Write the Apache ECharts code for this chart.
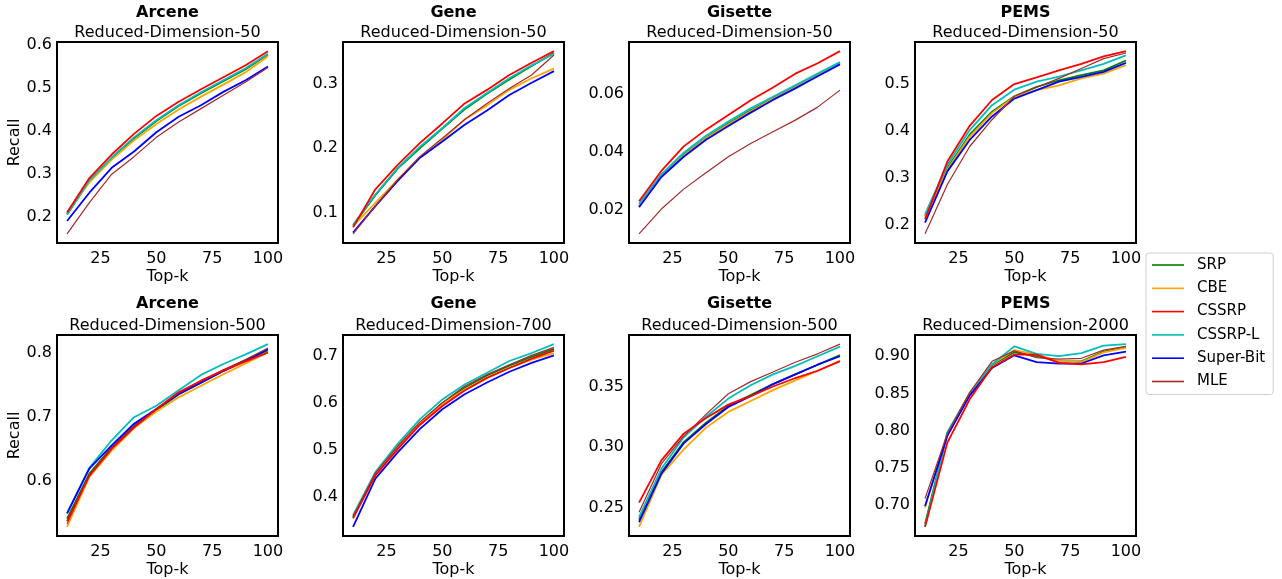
<!DOCTYPE html>
<html>
<head>
<meta charset="utf-8">
<script src="https://cdn.jsdelivr.net/npm/echarts@6/dist/echarts.min.js"></script>
<style>
  html, body { margin: 0; padding: 0; background: #fff; }
  #chart { width: 1282px; height: 579px; }
</style>
</head>
<body>
<div id="chart"></div>
<script>
// x values shared by every panel
const topK = [10, 20, 30, 40, 50, 60, 70, 80, 90, 100];
const methods = ['SRP', 'CBE', 'CSSRP', 'CSSRP-L', 'Super-Bit', 'MLE'];

// recall per method, rows in the order of `methods`
const arcene50 = [
  [0.205, 0.283, 0.336, 0.383, 0.423, 0.458, 0.488, 0.516, 0.544, 0.578],
  [0.210, 0.280, 0.333, 0.378, 0.416, 0.450, 0.480, 0.508, 0.537, 0.574],
  [0.210, 0.290, 0.345, 0.393, 0.435, 0.468, 0.497, 0.525, 0.553, 0.586],
  [0.205, 0.285, 0.338, 0.385, 0.425, 0.460, 0.490, 0.518, 0.546, 0.580],
  [0.190, 0.256, 0.314, 0.352, 0.397, 0.433, 0.460, 0.491, 0.518, 0.550],
  [0.160, 0.233, 0.299, 0.340, 0.385, 0.421, 0.452, 0.483, 0.514, 0.548]
];
const gene50 = [
  [0.080, 0.127, 0.168, 0.200, 0.230, 0.260, 0.284, 0.306, 0.327, 0.347],
  [0.079, 0.115, 0.151, 0.185, 0.213, 0.244, 0.266, 0.290, 0.308, 0.323],
  [0.077, 0.136, 0.174, 0.208, 0.238, 0.269, 0.290, 0.313, 0.332, 0.350],
  [0.081, 0.128, 0.169, 0.202, 0.231, 0.262, 0.285, 0.308, 0.328, 0.346],
  [0.069, 0.110, 0.149, 0.185, 0.210, 0.236, 0.258, 0.282, 0.301, 0.319],
  [0.067, 0.110, 0.151, 0.187, 0.215, 0.244, 0.269, 0.292, 0.313, 0.344]
];
const gisette50 = [
  [0.0212, 0.0318, 0.0390, 0.0449, 0.0498, 0.0544, 0.0586, 0.0626, 0.0667, 0.0709],
  [0.0213, 0.0316, 0.0388, 0.0447, 0.0495, 0.0541, 0.0584, 0.0624, 0.0665, 0.0707],
  [0.0229, 0.0334, 0.0419, 0.0477, 0.0528, 0.0579, 0.0623, 0.0671, 0.0707, 0.0749],
  [0.0220, 0.0322, 0.0397, 0.0456, 0.0505, 0.0551, 0.0591, 0.0631, 0.0671, 0.0711],
  [0.0208, 0.0313, 0.0383, 0.0442, 0.0490, 0.0536, 0.0580, 0.0620, 0.0662, 0.0703],
  [0.0116, 0.0202, 0.0271, 0.0328, 0.0383, 0.0429, 0.0470, 0.0510, 0.0555, 0.0614]
];
const pems50 = [
  [0.218, 0.320, 0.391, 0.440, 0.473, 0.493, 0.507, 0.518, 0.528, 0.549],
  [0.215, 0.317, 0.387, 0.437, 0.472, 0.486, 0.496, 0.511, 0.521, 0.539],
  [0.211, 0.334, 0.410, 0.465, 0.499, 0.513, 0.528, 0.542, 0.558, 0.569],
  [0.222, 0.327, 0.401, 0.454, 0.487, 0.504, 0.515, 0.528, 0.542, 0.560],
  [0.204, 0.313, 0.380, 0.430, 0.468, 0.486, 0.504, 0.514, 0.525, 0.544],
  [0.180, 0.285, 0.366, 0.423, 0.473, 0.492, 0.511, 0.532, 0.553, 0.565]
];
const arcene500 = [
  [0.542, 0.612, 0.653, 0.687, 0.711, 0.736, 0.754, 0.772, 0.789, 0.804],
  [0.529, 0.607, 0.648, 0.683, 0.709, 0.731, 0.749, 0.767, 0.784, 0.801],
  [0.538, 0.609, 0.651, 0.684, 0.713, 0.739, 0.757, 0.773, 0.787, 0.801],
  [0.550, 0.621, 0.664, 0.700, 0.718, 0.742, 0.766, 0.783, 0.798, 0.814],
  [0.550, 0.620, 0.656, 0.690, 0.713, 0.736, 0.754, 0.772, 0.788, 0.806],
  [0.534, 0.609, 0.652, 0.686, 0.712, 0.738, 0.756, 0.774, 0.790, 0.808]
];
const gene700 = [
  [0.357, 0.450, 0.507, 0.558, 0.600, 0.633, 0.659, 0.680, 0.699, 0.716],
  [0.356, 0.449, 0.507, 0.557, 0.598, 0.629, 0.654, 0.675, 0.693, 0.707],
  [0.354, 0.446, 0.502, 0.554, 0.594, 0.627, 0.654, 0.675, 0.695, 0.712],
  [0.361, 0.453, 0.513, 0.566, 0.608, 0.640, 0.665, 0.690, 0.707, 0.726],
  [0.336, 0.439, 0.495, 0.545, 0.587, 0.619, 0.644, 0.667, 0.686, 0.702],
  [0.358, 0.451, 0.508, 0.560, 0.601, 0.636, 0.661, 0.682, 0.702, 0.719]
];
const gisette500 = [
  [0.240, 0.279, 0.304, 0.320, 0.334, 0.343, 0.352, 0.360, 0.368, 0.376],
  [0.234, 0.277, 0.298, 0.316, 0.329, 0.338, 0.347, 0.355, 0.363, 0.371],
  [0.254, 0.289, 0.311, 0.324, 0.335, 0.342, 0.350, 0.357, 0.363, 0.371],
  [0.242, 0.282, 0.308, 0.325, 0.340, 0.351, 0.360, 0.367, 0.375, 0.383],
  [0.238, 0.278, 0.303, 0.319, 0.333, 0.342, 0.352, 0.360, 0.368, 0.375],
  [0.246, 0.286, 0.309, 0.327, 0.344, 0.354, 0.362, 0.370, 0.377, 0.385]
];
const pems2000 = [
  [0.675, 0.797, 0.850, 0.888, 0.905, 0.900, 0.893, 0.893, 0.906, 0.912],
  [0.697, 0.796, 0.851, 0.889, 0.908, 0.902, 0.893, 0.892, 0.905, 0.911],
  [0.671, 0.784, 0.842, 0.885, 0.902, 0.902, 0.891, 0.889, 0.892, 0.899],
  [0.671, 0.798, 0.849, 0.889, 0.913, 0.903, 0.900, 0.904, 0.914, 0.916],
  [0.699, 0.793, 0.847, 0.884, 0.901, 0.892, 0.890, 0.890, 0.901, 0.906],
  [0.709, 0.796, 0.851, 0.893, 0.907, 0.898, 0.896, 0.897, 0.908, 0.913]
];

const datasets = ['Arcene', 'Gene', 'Gisette', 'PEMS', 'Arcene', 'Gene', 'Gisette', 'PEMS'];
const dims = [50, 50, 50, 50, 500, 700, 500, 2000];
const panelData = [arcene50, gene50, gisette50, pems50, arcene500, gene700, gisette500, pems2000];

const xTicks = [25, 50, 75, 100];
const yTicks = [
  [0.2, 0.3, 0.4, 0.5, 0.6],
  [0.1, 0.2, 0.3],
  [0.02, 0.04, 0.06],
  [0.2, 0.3, 0.4, 0.5],
  [0.6, 0.7, 0.8],
  [0.4, 0.5, 0.6, 0.7],
  [0.25, 0.30, 0.35],
  [0.70, 0.75, 0.80, 0.85, 0.90]
];
const yDecimals = [1, 1, 2, 1, 1, 1, 2, 2];

const colors = {
  'SRP': '#008000',
  'CBE': '#FFA500',
  'CSSRP': '#FF0000',
  'CSSRP-L': '#00BFBF',
  'Super-Bit': '#0000FF',
  'MLE': '#A52A2A'
};
// draw order (last on top)
const drawOrder = ['SRP', 'CBE', 'CSSRP-L', 'Super-Bit', 'MLE', 'CSSRP'];

const font = 'DejaVu Sans';
const lefts = [57, 343, 629, 915];
const tops = [42, 335];
const gw = 221, gh = 201;

const grid = [], xAxis = [], yAxis = [], title = [], series = [];

panelData.forEach((rows, p) => {
  const col = p % 4, row = Math.floor(p / 4);
  grid.push({
    left: lefts[col], top: tops[row], width: gw, height: gh,
    show: true, borderColor: '#000', borderWidth: 2, backgroundColor: 'transparent'
  });

  let lo = Infinity, hi = -Infinity;
  rows.forEach(r => r.forEach(v => { lo = Math.min(lo, v); hi = Math.max(hi, v); }));
  const pad = (hi - lo) * 0.05;

  xAxis.push({
    gridIndex: p, type: 'value', min: 5.5, max: 104.5,
    name: 'Top-k', nameLocation: 'middle', nameGap: 26,
    nameTextStyle: { fontFamily: font, fontSize: 16, color: '#000' },
    axisLine: { show: false }, axisTick: { show: false }, splitLine: { show: false },
    axisLabel: { customValues: xTicks, margin: 8, fontFamily: font, fontSize: 16, color: '#000' }
  });
  yAxis.push({
    gridIndex: p, type: 'value', min: lo - pad, max: hi + pad,
    name: col === 0 ? 'Recall' : '', nameLocation: 'middle', nameGap: 30,
    nameTextStyle: { fontFamily: font, fontSize: 16, color: '#000' },
    axisLine: { show: false }, axisTick: { show: false }, splitLine: { show: false },
    axisLabel: {
      customValues: yTicks[p], margin: 5, fontFamily: font, fontSize: 16, color: '#000',
      formatter: v => v.toFixed(yDecimals[p])
    }
  });
  title.push({
    text: datasets[p], subtext: 'Reduced-Dimension-' + dims[p],
    left: lefts[col] + gw / 2, top: row === 0 ? 3 : 294, textAlign: 'center',
    padding: 0, itemGap: row === 0 ? 1 : 3,
    textStyle: { fontFamily: font, fontSize: 16, fontWeight: 'bold', color: '#000', lineHeight: 19 },
    subtextStyle: { fontFamily: font, fontSize: 16, color: '#000', lineHeight: 19 }
  });

  drawOrder.forEach(name => {
    const vals = rows[methods.indexOf(name)];
    series.push({
      name, type: 'line', xAxisIndex: p, yAxisIndex: p,
      symbol: 'none', silent: true, animation: false,
      color: colors[name],
      lineStyle: { color: colors[name], width: name === 'MLE' ? 1.2 : 1.8 },
      data: topK.map((k, i) => [k, vals[i]])
    });
  });
});

const chart = echarts.init(document.getElementById('chart'));
chart.setOption({
  animation: false,
  title,
  grid, xAxis, yAxis, series,
  legend: {
    data: methods, orient: 'vertical', left: 1146, top: 253,
    padding: [4, 8, 5, 6], icon: 'rect', itemWidth: 32, itemHeight: 1.6, itemGap: 7.3,
    borderColor: '#d0d0d0', borderWidth: 1, borderRadius: 3,
    textStyle: { fontFamily: font, fontSize: 15, color: '#000', lineHeight: 16, padding: [0, 0, 0, 8] }
  }
});
</script>
</body>
</html>
